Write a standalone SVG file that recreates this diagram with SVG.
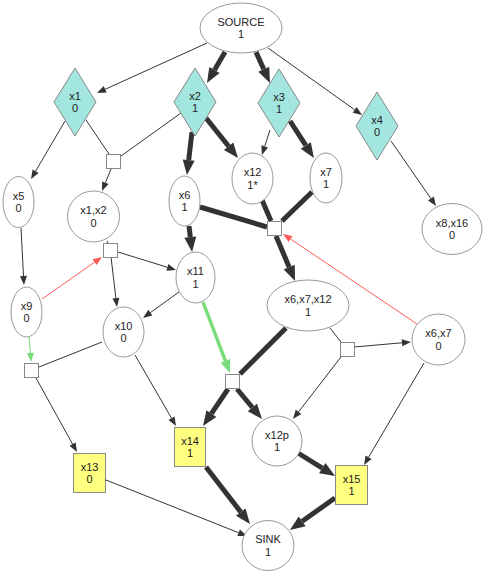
<svg xmlns="http://www.w3.org/2000/svg" width="485" height="573" viewBox="0 0 485 573">
<style>
.n{fill:#fff;stroke:#999;stroke-width:1}
.d{fill:#a3e6e0;stroke:#888;stroke-width:1}
.y{fill:#ffff80;stroke:#888;stroke-width:1}
.s{fill:#fff;stroke:#888;stroke-width:1}
text{font-family:"Liberation Sans",Arial,sans-serif;font-size:11px;fill:#222;text-anchor:middle}
.t{stroke:#333;stroke-width:1;fill:none}
.k{stroke:#333;stroke-width:5;fill:none}
.r{stroke:#ff5a5a;stroke-width:1;fill:none}
.g{stroke:#78dc78;stroke-width:3.5;fill:none}
.gt{stroke:#78dc78;stroke-width:1;fill:none}
</style>
<defs>
<marker id="ak" markerUnits="userSpaceOnUse" viewBox="0 -6 15 12" markerWidth="15" markerHeight="12" refX="0" refY="0" orient="auto" overflow="visible"><path d="M0,-6 L15,0 L0,6 z" fill="#333"/></marker>
<marker id="at" markerUnits="userSpaceOnUse" viewBox="0 -3.5 9 7" markerWidth="9" markerHeight="7" refX="0" refY="0" orient="auto" overflow="visible"><path d="M0,-3.5 L9,0 L0,3.5 z" fill="#333"/></marker>
<marker id="ar" markerUnits="userSpaceOnUse" viewBox="0 -3.5 9 7" markerWidth="9" markerHeight="7" refX="0" refY="0" orient="auto" overflow="visible"><path d="M0,-3.5 L9,0 L0,3.5 z" fill="#ff5a5a"/></marker>
<marker id="ag" markerUnits="userSpaceOnUse" viewBox="0 -5 13 10" markerWidth="13" markerHeight="10" refX="0" refY="0" orient="auto" overflow="visible"><path d="M0,-5 L13,0 L0,5 z" fill="#78dc78"/></marker>
<marker id="agt" markerUnits="userSpaceOnUse" viewBox="0 -3.5 9 7" markerWidth="9" markerHeight="7" refX="0" refY="0" orient="auto" overflow="visible"><path d="M0,-3.5 L9,0 L0,3.5 z" fill="#78dc78"/></marker>
</defs>
<g id="connectors">
<line class="k" x1="225" y1="52" x2="214.5" y2="70.0" marker-end="url(#ak)"/>
<line class="k" x1="256" y1="52" x2="263.8" y2="69.3" marker-end="url(#ak)"/>
<line class="k" x1="192" y1="132" x2="188.7" y2="160.1" marker-end="url(#ak)"/>
<line class="k" x1="206" y1="118" x2="228.6" y2="146.3" marker-end="url(#ak)"/>
<line class="k" x1="290" y1="121" x2="305.8" y2="145.4" marker-end="url(#ak)"/>
<line class="k" x1="189" y1="226" x2="190.3" y2="237.1" marker-end="url(#ak)"/>
<line class="k" x1="276" y1="236" x2="289.2" y2="267.2" marker-end="url(#ak)"/>
<line class="k" x1="228" y1="389" x2="211.4" y2="413.6" marker-end="url(#ak)"/>
<line class="k" x1="237" y1="389" x2="252.4" y2="407.5" marker-end="url(#ak)"/>
<line class="k" x1="206" y1="467" x2="240.8" y2="512.1" marker-end="url(#ak)"/>
<line class="k" x1="298" y1="453" x2="322.3" y2="468.1" marker-end="url(#ak)"/>
<line class="k" x1="335" y1="498" x2="302.2" y2="521.3" marker-end="url(#ak)"/>
<line class="k" x1="200" y1="207" x2="267" y2="227"/>
<line class="k" x1="262" y1="200" x2="271" y2="221"/>
<line class="k" x1="312" y1="192" x2="282" y2="221"/>
<line class="k" x1="286" y1="328" x2="240" y2="374"/>
<line class="g" x1="203" y1="302" x2="225.4" y2="360.9" marker-end="url(#ag)"/>
<line class="t" x1="207" y1="43" x2="105.2" y2="89.3" marker-end="url(#at)"/>
<line class="t" x1="268" y1="48" x2="354.7" y2="109.8" marker-end="url(#at)"/>
<line class="t" x1="65" y1="121" x2="35.6" y2="171.2" marker-end="url(#at)"/>
<line class="t" x1="111" y1="169" x2="105.4" y2="182.7" marker-end="url(#at)"/>
<line class="t" x1="270" y1="130" x2="264.7" y2="146.4" marker-end="url(#at)"/>
<line class="t" x1="391" y1="141" x2="430.9" y2="198.6" marker-end="url(#at)"/>
<line class="t" x1="21" y1="228" x2="23.5" y2="276.0" marker-end="url(#at)"/>
<line class="r" x1="42" y1="299" x2="94.6" y2="262.2" marker-end="url(#ar)"/>
<line class="t" x1="118" y1="252" x2="167.4" y2="267.3" marker-end="url(#at)"/>
<line class="t" x1="111" y1="257" x2="115.9" y2="298.1" marker-end="url(#at)"/>
<line class="r" x1="417" y1="324" x2="290.5" y2="239.0" marker-end="url(#ar)"/>
<line class="t" x1="179" y1="292" x2="150.3" y2="312.7" marker-end="url(#at)"/>
<line class="gt" x1="29" y1="337" x2="30.4" y2="353.0" marker-end="url(#agt)"/>
<line class="t" x1="354" y1="347" x2="402.0" y2="342.8" marker-end="url(#at)"/>
<line class="t" x1="341" y1="357" x2="298.5" y2="411.9" marker-end="url(#at)"/>
<line class="t" x1="424" y1="363" x2="368.6" y2="457.2" marker-end="url(#at)"/>
<line class="t" x1="135" y1="355" x2="171.5" y2="418.2" marker-end="url(#at)"/>
<line class="t" x1="36" y1="378" x2="72.6" y2="444.1" marker-end="url(#at)"/>
<line class="t" x1="106" y1="480" x2="238.6" y2="532.7" marker-end="url(#at)"/>
<line class="t" x1="86" y1="120" x2="109" y2="154"/>
<line class="t" x1="181" y1="113" x2="121" y2="156"/>
<line class="t" x1="107" y1="241" x2="108" y2="243"/>
<line class="t" x1="102" y1="342" x2="39" y2="367"/>
<line class="t" x1="330" y1="328" x2="341" y2="342"/>
</g>
<g id="SOURCE"><ellipse class="n" cx="241" cy="28" rx="41" ry="25"/><text x="241" y="25.5">SOURCE</text><text x="241" y="38">1</text></g>
<g id="x1"><polygon class="d" points="75,68 96,102 75,136 54,102"/><text x="75" y="99.5">x1</text><text x="75" y="112">0</text></g>
<g id="x2"><polygon class="d" points="195,68 216,102 195,136 174,102"/><text x="195" y="99.5">x2</text><text x="195" y="112">1</text></g>
<g id="x3"><polygon class="d" points="279,69 300,103 279,137 258,103"/><text x="279" y="100.5">x3</text><text x="279" y="113">1</text></g>
<g id="x4"><polygon class="d" points="377,92 398,126 377,160 356,126"/><text x="377" y="123.5">x4</text><text x="377" y="136">0</text></g>
<g id="j1"><rect class="s" x="106.5" y="154.5" width="14" height="14"/></g>
<g id="x5"><ellipse class="n" cx="18.5" cy="202" rx="15.5" ry="25.5"/><text x="18.5" y="199.5">x5</text><text x="18.5" y="212">0</text></g>
<g id="x1x2"><ellipse class="n" cx="93.5" cy="216.5" rx="26" ry="25.5"/><text x="93.5" y="214">x1,x2</text><text x="93.5" y="226.5">0</text></g>
<g id="x6"><ellipse class="n" cx="184.5" cy="201" rx="15.5" ry="25"/><text x="184.5" y="198.5">x6</text><text x="184.5" y="211">1</text></g>
<g id="x12"><ellipse class="n" cx="252.5" cy="178.5" rx="20.5" ry="25.5"/><text x="252.5" y="176">x12</text><text x="252.5" y="188.5">1*</text></g>
<g id="x7"><ellipse class="n" cx="326" cy="178" rx="16" ry="25"/><text x="326" y="175.5">x7</text><text x="326" y="188">1</text></g>
<g id="x8x16"><ellipse class="n" cx="452" cy="229" rx="30" ry="25.5"/><text x="452" y="226.5">x8,x16</text><text x="452" y="239">0</text></g>
<g id="j2"><rect class="s" x="267.5" y="221.5" width="14" height="14"/></g>
<g id="j3"><rect class="s" x="103.5" y="243.5" width="14" height="14"/></g>
<g id="x11"><ellipse class="n" cx="195.5" cy="277.5" rx="19.5" ry="25.5"/><text x="195.5" y="275">x11</text><text x="195.5" y="287.5">1</text></g>
<g id="x9"><ellipse class="n" cx="26.5" cy="312" rx="15.5" ry="25"/><text x="26.5" y="309.5">x9</text><text x="26.5" y="322">0</text></g>
<g id="x10"><ellipse class="n" cx="123.5" cy="332" rx="20.5" ry="25"/><text x="123.5" y="329.5">x10</text><text x="123.5" y="342">0</text></g>
<g id="x6x7x12"><ellipse class="n" cx="308" cy="305.5" rx="41" ry="25.5"/><text x="308" y="303">x6,x7,x12</text><text x="308" y="315.5">1</text></g>
<g id="x6x7"><ellipse class="n" cx="438.5" cy="339.5" rx="26.5" ry="25.5"/><text x="438.5" y="337">x6,x7</text><text x="438.5" y="349.5">0</text></g>
<g id="j4"><rect class="s" x="340.5" y="342.5" width="14" height="14"/></g>
<g id="j5"><rect class="s" x="24.5" y="363.5" width="14" height="14"/></g>
<g id="j6"><rect class="s" x="225.5" y="374.5" width="14" height="14"/></g>
<g id="x14"><rect class="y" x="174.5" y="427.5" width="31" height="39"/><text x="190" y="444.5">x14</text><text x="190" y="457">1</text></g>
<g id="x12p"><circle class="n" cx="277" cy="441" r="25"/><text x="277" y="438.5">x12p</text><text x="277" y="451">1</text></g>
<g id="x13"><rect class="y" x="73.5" y="453.5" width="32" height="39"/><text x="89.5" y="470.5">x13</text><text x="89.5" y="483">0</text></g>
<g id="x15"><rect class="y" x="335.5" y="465.5" width="32" height="39"/><text x="351.5" y="482.5">x15</text><text x="351.5" y="495">1</text></g>
<g id="SINK"><ellipse class="n" cx="268" cy="545.5" rx="26" ry="25"/><text x="268" y="543">SINK</text><text x="268" y="555.5">1</text></g>
</svg>
